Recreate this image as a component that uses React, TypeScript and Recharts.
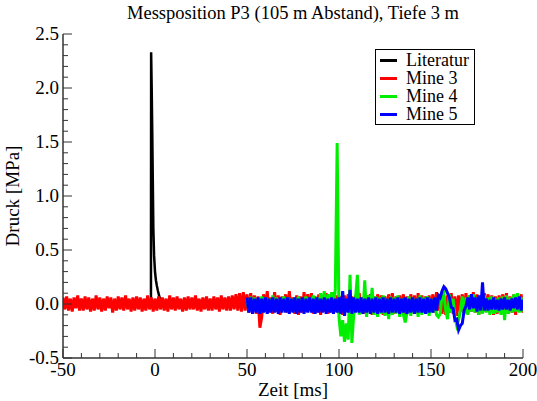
import { LineChart, Line, XAxis, YAxis } from "recharts";

// Zeitachse: Abtastung in ms
const T_MINE3_START = -50;
const T_MINE45_START = 50;
const DT = 1;

const X_TICKS = [-50, -40, -30, -20, -10, 0, 10, 20, 30, 40, 50, 60, 70, 80, 90, 100, 110, 120, 130, 140, 150, 160, 170, 180, 190, 200];
const Y_TICKS = [-0.5, -0.4, -0.3, -0.2, -0.1, 0, 0.1, 0.2, 0.3, 0.4, 0.5, 0.6, 0.7, 0.8, 0.9, 1.0, 1.1, 1.2, 1.3, 1.4, 1.5, 1.6, 1.7, 1.8, 1.9, 2.0, 2.1, 2.2, 2.3, 2.4, 2.5];

// Literatur (Zeit in ms, Druck in MPa)
const literaturT = [-2.2, -2.1, -1.8, -1.5, -1.2, -0.9, -0.5, 0, 0.5, 1, 1.6, 2.5, 3.5];
const literaturV = [0, 2.33, 2.0, 1.6, 1.15, 0.7, 0.45, 0.3, 0.22, 0.17, 0.12, 0.06, 0.02];

// Druck in 0.01 MPa, ab -50 ms
const mine3Centi = [
  6, -5, 7, -6, 5, -7, 6, -4, 8, -6, 5, -6, 7, -5, 6, -7, 5, -6, 8, -5,
  6, -7, 5, -6, 7, -4, 6, -8, 5, -6, 7, -5, 6, -6, 8, -5, 5, -7, 6, -6,
  7, -5, 6, -7, 5, -6, 8, -5, 6, -7, 5, -6, 7, -5, 6, -6, 5, -7, 8, -5,
  6, -6, 7, -5, 5, -7, 6, -6, 7, -5, 6, -5, 8, -6, 5, -7, 6, -5, 7, -6,
  5, -6, 7, -5, 6, -7, 8, -5, 6, -6, 7, -6, 8, -5, 9, -6, 10, -7, 11, -6,
  9, -8, 10, -6, 8, -9, 7, -22, -12, 9, -7, 12, -8, 6, -9, 11, -7, 8, -10, 7,
  -6, 9, -8, 12, -7, 6, -9, 8, -10, 7, -8, 11, -7, 9, -6, 10, -9, 7, -8, 9,
  -10, 8, -7, 10, -9, 6, -8, 11, -7, 8, -9, 7, -10, 8, -6, 9, -8, 7, -9, 8,
  -7, 10, -8, 6, -9, 8, -7, 9, -10, 7, -8, 9, -6, 8, -10, 7, -8, 9, -7, 10,
  -9, 7, -8, 8, -6, 9, -10, 7, -8, 9, -7, 8, -9, 10, -6, 8, -8, 7, -9, 8,
  -7, 9, -8, 11, -6, 8, -9, 7, -10, 8, -8, 10, -9, 7, -11, 8, -7, 9, -8, 10,
  -9, 8, -7, 11, -8, 9, -10, 7, -8, 10, -7, 9, -8, 8, -10, 7, -9, 8, -7, 9,
  -8, 10, -9, 7, -8, 9, -10, 8, -7, 9, -8,
];

// Druck in 0.01 MPa, ab 50 ms
const mine4Centi = [
  5, -6, 7, -5, 6, -7, 5, -6, 7, -5, 6, -7, 5, -6, 8, -5, 6, -7, 5, -6,
  7, -5, 6, -6, 5, -7, 6, -5, 7, -6, 5, -6, 7, -5, 6, -7, 8, -5, 6, -6,
  10, -5, 12, -6, 9, -4, 11, -5, 14, 149, -12, -30, -15, -35, -18, -33, 27, -36, -10, 6,
  27, -10, 5, -8, 22, -12, 8, -6, 15, -10, 7, -12, 6, -9, 8, -11, 5, -14, 7, -10,
  6, -9, 8, -12, 5, -10, -17, -8, 7, -11, 6, -9, 5, -12, 8, -10, 6, -9, 7, -11,
  5, -8, 6, -10, -12, -9, 8, 10, -6, -14, 9, -8, 5, -12, -20, -15, -6, 7, -9, 6,
  -10, 8, -7, 9, -8, 6, -10, 7, -9, 8, -8, 6, -10, 7, -9, 5, -8, 6, -10, 7,
  -15, 8, -9, 6, -8, 9, -7, 10, -8, 6, -7,
];

// Druck in 0.01 MPa, ab 50 ms
const mine5Centi = [
  6, -8, 6, -9, 5, -8, 6, -9, 5, -8, 6, -9, 5, -8, 6, -8, 5, -9, 6, -8,
  5, -8, 6, -9, 5, -8, 6, -9, 5, -8, 6, -9, 5, -8, 6, -8, 5, -9, 6, -8,
  5, -8, 6, -9, 5, -8, 6, -9, 5, -8, 6, -9, 12, -11, 5, -8, 13, -9, 6, -8,
  5, -8, 6, -9, 5, -8, 6, -9, 5, -8, 6, -9, 5, -8, 6, -8, 5, -9, 6, -8,
  5, -8, 6, -9, 5, -8, 6, -9, 5, -8, 6, -9, 5, -8, 6, -8, 5, -9, 6, -8,
  5, -8, 6, -6, 8, 6, 12, 16, 14, 10, 6, -3, -4, -15, -14, -24, -20, -18, -6, -2,
  6, -5, 9, -4, 6, -7, 8, -6, 20, -6, 5, -6, 4, -5, 6, -5, 4, -6, 5, -5,
  6, -5, 4, -6, 5, -4, 6, -5, 7, -6, 4,
];

const literaturData = literaturT.map((t, i) => ({ t, v: literaturV[i] }));
const mine3Data = mine3Centi.map((c, i) => ({ t: T_MINE3_START + i * DT, v: c / 100 }));
const mine4Data = mine4Centi.map((c, i) => ({ t: T_MINE45_START + i * DT, v: c / 100 }));
const mine5Data = mine5Centi.map((c, i) => ({ t: T_MINE45_START + i * DT, v: c / 100 }));

const SERIES = [
  { name: "Literatur", color: "#000000", data: literaturData, width: 2.5 },
  { name: "Mine 3", color: "#ff0000", data: mine3Data, width: 3 },
  { name: "Mine 4", color: "#00ee00", data: mine4Data, width: 3 },
  { name: "Mine 5", color: "#0000ff", data: mine5Data, width: 3 },
];

const FONT = "'Liberation Serif', 'Times New Roman', serif";
const AXIS = "#333";
const TXT = { fontFamily: FONT, fontSize: 19, fill: "#000" };

const BottomTick = ({ x, y, payload }: any) => {
  const major = payload.value % 50 === 0;
  return (
    <g>
      <line x1={x} y1={y} x2={x} y2={y - (major ? 9 : 5)} stroke={AXIS} />
      {major && (
        <text x={x} y={y + 18} textAnchor="middle" style={TXT}>
          {payload.value}
        </text>
      )}
    </g>
  );
};

const TopTick = ({ x, y, payload }: any) => {
  const major = payload.value % 50 === 0;
  return <line x1={x} y1={y} x2={x} y2={y + (major ? 9 : 5)} stroke={AXIS} />;
};

const isMajorY = (v: number) => Math.abs(Math.round(v * 2) - v * 2) < 1e-6;

const LeftTick = ({ x, y, payload }: any) => {
  const major = isMajorY(payload.value);
  return (
    <g>
      <line x1={x} y1={y} x2={x + (major ? 9 : 5)} y2={y} stroke={AXIS} />
      {major && (
        <text x={x - 4} y={y + 6} textAnchor="end" style={TXT}>
          {payload.value.toFixed(1)}
        </text>
      )}
    </g>
  );
};

const RightTick = ({ x, y, payload }: any) => {
  const major = isMajorY(payload.value);
  return <line x1={x} y1={y} x2={x - (major ? 9 : 5)} y2={y} stroke={AXIS} />;
};

const XLabel = ({ viewBox }: any) => (
  <text x={viewBox.x + viewBox.width / 2} y={viewBox.y + 38} textAnchor="middle" style={TXT}>
    Zeit [ms]
  </text>
);

const YLabel = ({ viewBox }: any) => {
  const cx = 19;
  const cy = viewBox.y + viewBox.height / 2;
  return (
    <text x={cx} y={cy} textAnchor="middle" transform={`rotate(-90 ${cx} ${cy})`} style={TXT}>
      Druck [MPa]
    </text>
  );
};

export default function App() {
  return (
    <div style={{ position: "absolute", left: 0, top: 0, width: 537, height: 401, background: "#fff" }}>
      <div
        style={{
          position: "absolute",
          left: 63,
          width: 460,
          top: 3,
          textAlign: "center",
          fontFamily: FONT,
          fontSize: 18.5,
          color: "#000",
        }}
      >
        Messposition P3 (105 m Abstand), Tiefe 3 m
      </div>
      <LineChart width={537} height={401} margin={{ top: 34, right: 14, bottom: 0, left: 0 }}>
        <XAxis
          dataKey="t"
          type="number"
          domain={[-50, 200]}
          ticks={X_TICKS}
          interval={0}
          height={43}
          tickSize={0}
          tickMargin={0}
          tickLine={false}
          tick={BottomTick}
          axisLine={{ stroke: AXIS, strokeWidth: 1.5 }}
          allowDataOverflow
          label={{ content: XLabel }}
        />
        <XAxis
          xAxisId="top"
          orientation="top"
          dataKey="t"
          type="number"
          domain={[-50, 200]}
          ticks={X_TICKS}
          interval={0}
          height={0}
          tickSize={0}
          tickMargin={0}
          tickLine={false}
          tick={TopTick}
          axisLine={{ stroke: AXIS, strokeWidth: 1.5 }}
        />
        <YAxis
          type="number"
          domain={[-0.5, 2.5]}
          ticks={Y_TICKS}
          interval={0}
          width={63}
          tickSize={0}
          tickMargin={0}
          tickLine={false}
          tick={LeftTick}
          axisLine={{ stroke: AXIS, strokeWidth: 1.5 }}
          allowDataOverflow
          label={{ content: YLabel }}
        />
        <YAxis
          yAxisId="right"
          orientation="right"
          type="number"
          domain={[-0.5, 2.5]}
          ticks={Y_TICKS}
          interval={0}
          width={0}
          tickSize={0}
          tickMargin={0}
          tickLine={false}
          tick={RightTick}
          axisLine={{ stroke: AXIS, strokeWidth: 1.5 }}
        />
        {SERIES.map((s) => (
          <Line
            key={s.name}
            data={s.data}
            dataKey="v"
            name={s.name}
            type="linear"
            stroke={s.color}
            strokeWidth={s.width}
            dot={false}
            isAnimationActive={false}
          />
        ))}
      </LineChart>
      <div
        style={{
          position: "absolute",
          left: 375,
          top: 49,
          border: "1.5px solid #000",
          background: "#fff",
          padding: "1px 5px 1px 4px",
          fontFamily: FONT,
          fontSize: 18,
          lineHeight: "18px",
          color: "#000",
        }}
      >
        {SERIES.map((s) => (
          <div key={s.name} style={{ display: "flex", alignItems: "center" }}>
            <span style={{ display: "inline-block", width: 17, height: 3, background: s.color, marginRight: 9 }} />
            <span>{s.name}</span>
          </div>
        ))}
      </div>
    </div>
  );
}
